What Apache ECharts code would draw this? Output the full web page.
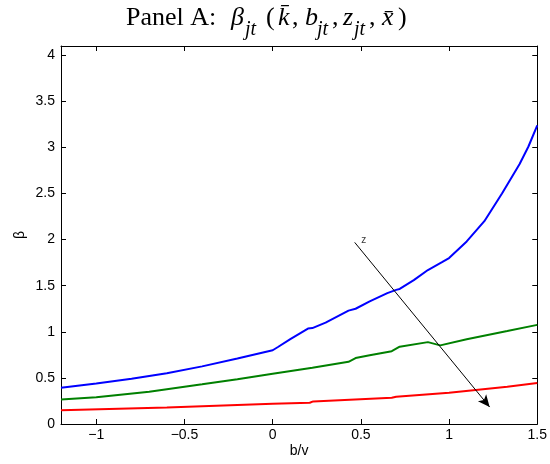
<!DOCTYPE html>
<html>
<head>
<meta charset="utf-8">
<script src="https://cdn.jsdelivr.net/npm/echarts@6/dist/echarts.min.js"></script>
<style>
  html, body { margin: 0; padding: 0; background: #fff; }
  #chart { width: 550px; height: 464px; }
</style>
</head>
<body>
<div id="chart"></div>
<script>
// b/v positions and beta values
const xBlue = [-1.2, -1.0, -0.8, -0.6, -0.4, -0.2, 0.0, 0.03, 0.1, 0.2, 0.225, 0.3, 0.43, 0.47, 0.55, 0.65, 0.7, 0.72, 0.8, 0.88, 0.96, 1.0, 1.1, 1.2, 1.3, 1.4, 1.45, 1.5];
const yBlue = [0.393, 0.44, 0.49, 0.55, 0.625, 0.71, 0.80, 0.835, 0.92, 1.035, 1.04, 1.10, 1.23, 1.25, 1.33, 1.42, 1.455, 1.465, 1.56, 1.67, 1.755, 1.80, 1.98, 2.20, 2.50, 2.82, 3.01, 3.24];

const xGreen = [-1.2, -1.0, -0.7, -0.4, -0.2, 0.0, 0.225, 0.43, 0.47, 0.55, 0.675, 0.72, 0.88, 0.95, 1.1, 1.33, 1.5];
const yGreen = [0.267, 0.29, 0.35, 0.43, 0.485, 0.545, 0.61, 0.675, 0.715, 0.745, 0.79, 0.838, 0.888, 0.853, 0.92, 1.008, 1.075];

const xRed = [-1.2, -0.6, -0.2, 0.0, 0.21, 0.23, 0.675, 0.7, 1.0, 1.33, 1.5];
const yRed = [0.148, 0.18, 0.206, 0.22, 0.23, 0.245, 0.285, 0.295, 0.34, 0.404, 0.444];

const xTicks = [-1, -0.5, 0, 0.5, 1, 1.5];
const yTicks = [0, 0.5, 1, 1.5, 2, 2.5, 3, 3.5, 4];

// arrow showing direction of increasing z
const arrowFrom = [0.465, 1.97];
const arrowTo = [1.23, 0.184];
const zLabelAt = [0.516, 1.99];

function pairs(xs, ys) {
  return xs.map((x, i) => [x, ys[i]]);
}
function fmt(v) {
  return String(v).replace('-', '\u2212');
}

const sans = 'Liberation Sans, Arial, sans-serif';
const serif = 'Liberation Serif, Times New Roman, serif';

// title pieces: main text sits at the top of a tall line, subscripts at its bottom
function mainTok(w, italic) {
  return { fontFamily: serif, fontWeight: 'normal', fontStyle: italic ? 'italic' : 'normal', fontSize: 26, color: '#000', lineHeight: 35, verticalAlign: 'top', width: w, align: 'left' };
}
function subTok(w) {
  return { fontFamily: serif, fontWeight: 'normal', fontStyle: 'italic', fontSize: 20, color: '#000', lineHeight: 20, verticalAlign: 'bottom', width: w, align: 'left' };
}

const tickStyle = { show: true, inside: true, length: 5, lineStyle: { color: '#000', width: 1 } };
const lineStyleAxis = { show: true, onZero: false, lineStyle: { color: '#000', width: 1 } };

const option = {
  animation: false,
  backgroundColor: '#fff',
  title: {
    text: '{a|Panel A:}{b|\u03B2}{c|jt}{d|(}{e|k\u0304}{f|,}{g|b}{h|jt}{k|,}{l|z}{m|jt}{o|,}{q|x\u0304}{r|)}',
    left: 126,
    top: 5,
    padding: 0,
    textStyle: {
      fontWeight: 'normal',
      rich: {
        a: mainTok(105, false),
        b: mainTok(14, true),
        c: subTok(21),
        d: mainTok(12, false),
        e: mainTok(14, true),
        f: mainTok(13, false),
        g: mainTok(12, true),
        h: subTok(15),
        k: mainTok(11, false),
        l: mainTok(11, true),
        m: subTok(15),
        o: mainTok(13, false),
        q: mainTok(16, true),
        r: mainTok(10, false)
      }
    }
  },
  grid: { left: 61, right: 11, top: 46, bottom: 40, containLabel: false },
  xAxis: [
    {
      type: 'value',
      min: -1.2,
      max: 1.5,
      name: 'b/v',
      nameLocation: 'middle',
      nameGap: 20,
      nameMoveOverlap: false,
      nameTextStyle: { fontFamily: sans, fontSize: 14, color: '#000' },
      axisLine: lineStyleAxis,
      axisTick: Object.assign({ customValues: xTicks }, tickStyle),
      axisLabel: { customValues: xTicks, formatter: fmt, margin: 4, fontFamily: sans, fontSize: 14, color: '#000' },
      splitLine: { show: false }
    },
    {
      type: 'value',
      position: 'top',
      min: -1.2,
      max: 1.5,
      axisLine: lineStyleAxis,
      axisTick: Object.assign({ customValues: xTicks }, tickStyle),
      axisLabel: { show: false },
      splitLine: { show: false }
    }
  ],
  yAxis: [
    {
      type: 'value',
      min: 0,
      max: 4.1,
      name: '\u03B2',
      nameLocation: 'middle',
      nameGap: 34,
      nameMoveOverlap: false,
      nameTextStyle: { fontFamily: sans, fontSize: 14, color: '#000' },
      axisLine: lineStyleAxis,
      axisTick: Object.assign({ customValues: yTicks }, tickStyle),
      axisLabel: { customValues: yTicks, formatter: fmt, margin: 6, fontFamily: sans, fontSize: 14, color: '#000' },
      splitLine: { show: false }
    },
    {
      type: 'value',
      position: 'right',
      min: 0,
      max: 4.1,
      axisLine: lineStyleAxis,
      axisTick: Object.assign({ customValues: yTicks }, tickStyle),
      axisLabel: { show: false },
      splitLine: { show: false }
    }
  ],
  series: [
    {
      type: 'line',
      data: pairs(xBlue, yBlue),
      showSymbol: false,
      lineStyle: { color: '#0000ff', width: 2 },
      z: 3
    },
    {
      type: 'line',
      data: pairs(xGreen, yGreen),
      showSymbol: false,
      lineStyle: { color: '#008000', width: 2 },
      z: 3
    },
    {
      type: 'line',
      data: pairs(xRed, yRed),
      showSymbol: false,
      lineStyle: { color: '#ff0000', width: 2 },
      z: 3
    },
    {
      type: 'line',
      data: [],
      markLine: {
        silent: true,
        symbol: ['none', 'arrow'],
        symbolSize: [8, 12],
        label: { show: false },
        lineStyle: { color: '#000', width: 1, type: 'solid' },
        data: [[{ coord: arrowFrom }, { coord: arrowTo }]]
      },
      z: 4
    },
    {
      type: 'scatter',
      data: [zLabelAt],
      symbolSize: 2,
      itemStyle: { color: 'rgba(0,0,0,0)' },
      silent: true,
      label: { show: true, position: 'inside', formatter: 'z', fontFamily: sans, fontSize: 10, color: '#000' },
      z: 4
    }
  ]
};

const chart = echarts.init(document.getElementById('chart'));
chart.setOption(option);
</script>
</body>
</html>
